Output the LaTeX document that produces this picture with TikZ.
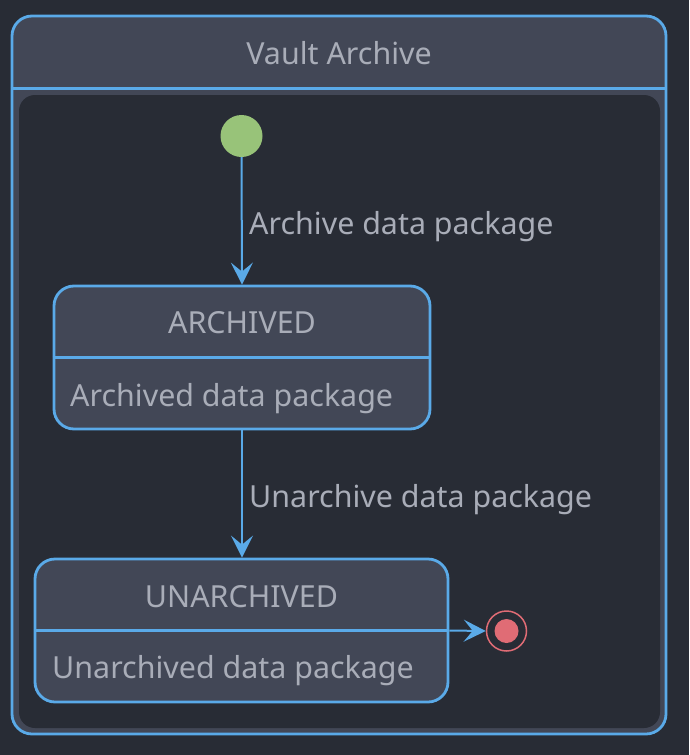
\documentclass[tikz,border=0pt]{standalone}
\usepackage{fontspec}
\setmainfont{Noto Sans}
\usetikzlibrary{arrows.meta}
\definecolor{bgc}{RGB}{40,44,53}
\definecolor{boxc}{RGB}{66,71,86}
\definecolor{bluec}{RGB}{90,170,232}
\definecolor{txtc}{RGB}{169,173,184}
\definecolor{greenc}{RGB}{152,195,121}
\definecolor{redc}{RGB}{224,108,117}
\tikzset{
  statebox/.style={draw=bluec, line width=2.8pt, fill=boxc, rounded corners=20pt, inner sep=0pt},
  txt/.style={text=txtc, font=\fontsize{30.4}{36}\selectfont, inner sep=0pt},
  conn/.style={draw=bluec, line width=2pt, -{Stealth[length=22pt, width=22pt, inset=9pt]}},
  seppath/.style={draw=bluec, line width=2.8pt},
}
\begin{document}
\begin{tikzpicture}[x=1pt, y=-1pt]
\useasboundingbox[fill=bgc] (0,0) rectangle (689,755);
% outer composite
\node[statebox, minimum width=654pt, minimum height=718pt] (outer) at (339,375) {};
\draw[seppath] (outer.west |- 0,88.7) coordinate (hl) -- (outer.east |- 0,88.7) coordinate (hr);
\node[fill=bgc, rounded corners=16pt, minimum width=641pt, minimum height=633pt, inner sep=0pt] (panel) at (339.5,411.5) {};
\node[txt, anchor=base] (title) at (339,64) {Vault Archive};
% start
\node[circle, fill=greenc, minimum size=42pt, inner sep=0pt] (start) at (241.5,136) {};
% archived
\node[statebox, minimum width=376pt, minimum height=143pt] (arch) at (242,357.5) {};
\draw[seppath] (arch.west) -- (arch.east);
\node[txt, anchor=base] (archt) at (242,333) {ARCHIVED};
\node[txt, anchor=base west] (archd) at (70,406) {Archived data package};
% unarchived
\node[statebox, minimum width=413pt, minimum height=143pt] (unarch) at (241.5,630.5) {};
\draw[seppath] (unarch.west) -- (unarch.east);
\node[txt, anchor=base] (unarcht) at (241.5,607) {UNARCHIVED};
\node[txt, anchor=base west] (unarchd) at (52,678) {Unarchived data package};
% end
\node[circle, draw=redc, line width=1.5pt, fill=bgc, minimum size=40pt, inner sep=0pt] (end) at (506.5,631) {};
\node[circle, fill=redc, minimum size=24pt, inner sep=0pt] (enddot) at (end.center) {};
% connectors
\draw[conn] (start.south) -- (arch.north);
\node[txt, anchor=base west] (l1) at (249,234) {Archive data package};
\draw[conn] (arch.south) -- (unarch.north -| arch.south);
\node[txt, anchor=base west] (l2) at (249,507) {Unarchive data package};
\draw[conn] (unarch.east) -- (end.west);
\end{tikzpicture}
\end{document}
